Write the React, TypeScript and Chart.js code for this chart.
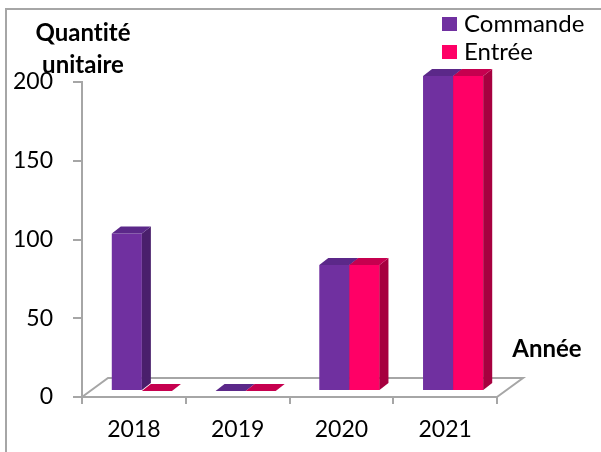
import React, { useEffect, useRef } from "react";
import { Chart, registerables } from "chart.js";

Chart.register(...registerables);

// ---- data ----
const years = ["2018", "2019", "2020", "2021"];
const commande = [100, 0, 80, 200];
const entree = [0, 0, 80, 200];
const seriesNames = ["Commande", "Entrée"];
const yTicks = { min: 0, max: 200, step: 50 };
const yTitleLines = ["Quantité", "unitaire"];
const xTitle = "Année";

// ---- styles ----
const FRONT = ["#7030A0", "#FF0066"];
const SIDE = ["#4A1F6C", "#A6003F"];
const TOPC = ["#5B2889", "#C6004F"];
const AXIS = "#a6a6a6";
const FONT = "Lato";
const FLOOR = { dx: 26, dy: -19 };
const BAR_OFF = { dx: 8, dy: -6 };
const BAR_DEPTH = { dx: 9, dy: -7 };

const threeD = {
  id: "threeD",
  beforeDatasetsDraw(chart: any) {
    const { ctx, chartArea: ca } = chart;
    ctx.save();
    ctx.strokeStyle = AXIS;
    ctx.lineWidth = 2;
    ctx.beginPath();
    ctx.moveTo(ca.left, ca.bottom);
    ctx.lineTo(ca.left + FLOOR.dx, ca.bottom + FLOOR.dy);
    ctx.lineTo(ca.right + FLOOR.dx, ca.bottom + FLOOR.dy);
    ctx.lineTo(ca.right, ca.bottom);
    ctx.stroke();
    ctx.restore();
    ctx.save();
    ctx.translate(BAR_OFF.dx, BAR_OFF.dy);
  },
  afterDatasetsDraw(chart: any) {
    const ctx = chart.ctx;
    const n = chart.data.labels.length;
    for (let i = 0; i < n; i++) {
      chart.data.datasets.forEach((_ds: any, d: number) => {
        const el = chart.getDatasetMeta(d).data[i];
        const { x, y, base, width } = el.getProps(["x", "y", "base", "width"], true);
        const l = x - width / 2;
        const r = x + width / 2;
        const top = Math.min(y, base);
        const bot = Math.max(y, base);
        if (d > 0) el.draw(ctx);
        ctx.fillStyle = SIDE[d];
        ctx.beginPath();
        ctx.moveTo(r, bot);
        ctx.lineTo(r + BAR_DEPTH.dx, bot + BAR_DEPTH.dy);
        ctx.lineTo(r + BAR_DEPTH.dx, top + BAR_DEPTH.dy);
        ctx.lineTo(r, top);
        ctx.closePath();
        ctx.fill();
        ctx.fillStyle = TOPC[d];
        ctx.beginPath();
        ctx.moveTo(l, top);
        ctx.lineTo(r, top);
        ctx.lineTo(r + BAR_DEPTH.dx, top + BAR_DEPTH.dy);
        ctx.lineTo(l + BAR_DEPTH.dx, top + BAR_DEPTH.dy);
        ctx.closePath();
        ctx.fill();
      });
    }
    ctx.restore();
  },
  afterDraw(chart: any) {
    const { ctx, chartArea: ca } = chart;
    ctx.save();
    // frame
    ctx.strokeStyle = AXIS;
    ctx.lineWidth = 2;
    ctx.beginPath();
    ctx.moveTo(6, chart.height);
    ctx.lineTo(6, 9);
    ctx.lineTo(chart.width, 9);
    ctx.stroke();
    // axis titles
    try { (ctx as any).textRendering = "optimizeSpeed"; } catch (e) {}
    try { (ctx as any).fontVariantLigatures = "none"; } catch (e) {}
    ctx.fillStyle = "#000";
    ctx.font = `bold 24px ${FONT}`;
    ctx.textAlign = "center";
    ctx.textBaseline = "middle";
    yTitleLines.forEach((t, k) => ctx.fillText(t, ca.left + 1, 33 + k * 32));
    ctx.fillText(xTitle, ca.right + 50, ca.bottom - 48);
    // legend
    ctx.font = `24px ${FONT}`;
    ctx.textAlign = "left";
    chart.data.datasets.forEach((ds: any, d: number) => {
      const yy = 24 + d * 28;
      ctx.fillStyle = ds.backgroundColor;
      ctx.fillRect(442, yy - 7, 15, 14);
      ctx.fillStyle = "#000";
      ctx.fillText(ds.label, 464, yy);
    });
    ctx.restore();
  },
};

export default function App() {
  const ref = useRef<HTMLCanvasElement>(null);
  useEffect(() => {
    if (!ref.current) return;
    const chart = new Chart(ref.current, {
      type: "bar",
      data: {
        labels: years,
        datasets: [
          { label: seriesNames[0], data: commande, backgroundColor: FRONT[0], borderWidth: 0, barPercentage: 1, categoryPercentage: 0.58 },
          { label: seriesNames[1], data: entree, backgroundColor: FRONT[1], borderWidth: 0, barPercentage: 1, categoryPercentage: 0.58 },
        ],
      },
      options: {
        animation: false,
        responsive: false,
        devicePixelRatio: 1,
        layout: { padding: { left: 0, top: 82, right: 104, bottom: 0 } },
        plugins: { legend: { display: false }, tooltip: { enabled: false } },
        scales: {
          x: {
            offset: true,
            grid: { offset: true, drawOnChartArea: false, tickLength: 7, color: AXIS, lineWidth: 2 },
            border: { color: AXIS, width: 2 },
            ticks: { color: "#000", font: { family: FONT, size: 23 }, padding: 12 },
            afterFit(s: any) { s.height = 55; },
          },
          y: {
            min: yTicks.min,
            max: yTicks.max,
            ticks: { stepSize: yTicks.step, color: "#000", font: { family: FONT, size: 23 }, padding: 20 },
            grid: { drawOnChartArea: false, tickLength: 9, color: AXIS, lineWidth: 2 },
            border: { color: AXIS, width: 2 },
            afterFit(s: any) { s.width = 82; },
          },
        },
      },
      plugins: [threeD],
    } as any);
    return () => chart.destroy();
  }, []);
  return (
    <div style={{ position: "absolute", left: 0, top: 0, width: 601, height: 452, background: "#fff" }}>
      <canvas ref={ref} width={601} height={452} />
    </div>
  );
}
